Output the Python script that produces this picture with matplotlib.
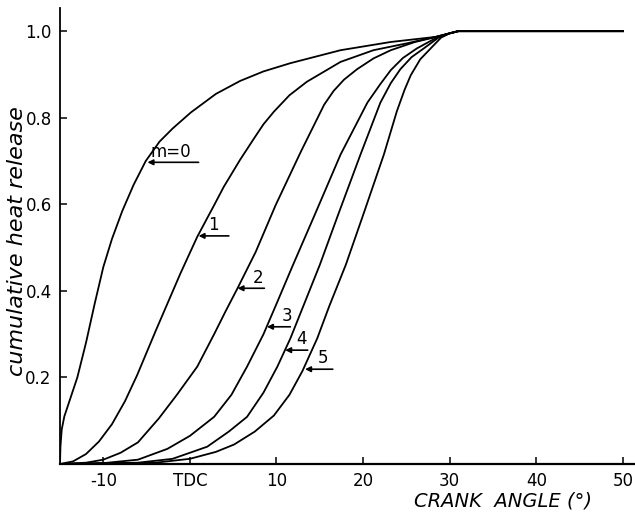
import matplotlib.pyplot as plt

# curves: crank angle (deg) vs cumulative heat release
m0_x = [-15, -14.95, -14.8, -14.5, -14.0, -13.0, -12.0, -11.0, -10.0, -9.0, -7.8, -6.5, -5.1, -3.5, -2.0,
        0.1, 3.0, 5.8, 8.5, 11.6, 17.4, 23.2, 28.5, 30, 31, 50]
m0_y = [0, 0.04, 0.08, 0.11, 0.14, 0.20, 0.28, 0.37, 0.455, 0.52, 0.585, 0.645, 0.70, 0.745, 0.775,
        0.812, 0.855, 0.885, 0.907, 0.926, 0.956, 0.975, 0.987, 0.995, 1.0, 1.0]

m1_x = [-15, -13.5, -12.0, -10.5, -9.0, -7.5, -6.1, -3.9, -1.1, 0.85, 2.8, 3.9, 5.8, 7.4, 8.5, 9.7,
        11.5, 13.5, 17.4, 21.2, 25.1, 28, 30, 31, 50]
m1_y = [0, 0.006, 0.023, 0.052, 0.092, 0.145, 0.205, 0.31, 0.44, 0.525, 0.598, 0.64, 0.703, 0.752, 0.785, 0.814,
        0.852, 0.883, 0.929, 0.956, 0.972, 0.985, 0.995, 1.0, 1.0]

m2_x = [-15, -12, -10, -8, -6, -3.6, -1.5, 0.85, 2.8, 4.1, 5.5, 7.6, 9.9, 12.8, 15.5, 16.6, 17.8,
        19.3, 21.2, 23.2, 26, 28.5, 30, 31, 50]
m2_y = [0, 0.003, 0.01, 0.026, 0.05, 0.105, 0.16, 0.225, 0.30, 0.352, 0.406, 0.49, 0.598, 0.721, 0.83, 0.862, 0.888,
        0.912, 0.937, 0.956, 0.975, 0.987, 0.995, 1.0, 1.0]

m3_x = [-15, -10, -6, -2.6, 0, 2.8, 4.8, 6.6, 8.5, 10.0, 11.8, 14.4, 17.4, 20.5, 22, 23.2, 24.6,
        26.2, 28.5, 30, 31, 50]
m3_y = [0, 0.002, 0.01, 0.035, 0.065, 0.109, 0.16, 0.225, 0.30, 0.37, 0.455, 0.575, 0.715, 0.835, 0.878, 0.91, 0.938,
        0.96, 0.985, 0.995, 1.0, 1.0]

m4_x = [-15, -6, -2, 2.0, 4.5, 6.6, 8.5, 10.1, 11.6, 13.1, 15, 17.1, 19.7, 22.0, 23.2, 24.3, 25.6,
        27.0, 28.7, 30, 31, 50]
m4_y = [0, 0.003, 0.012, 0.04, 0.075, 0.109, 0.165, 0.225, 0.29, 0.365, 0.46, 0.575, 0.715, 0.835, 0.88, 0.912, 0.94,
        0.96, 0.985, 0.995, 1.0, 1.0]

m5_x = [-15, -4, 0, 3, 5.1, 7.5, 9.7, 11.5, 13.0, 14.7, 16.1, 18, 20.0, 22.4, 23.9, 24.8, 25.5,
        26.6, 27.8, 29, 30, 31, 50]
m5_y = [0, 0.003, 0.012, 0.028, 0.045, 0.075, 0.112, 0.16, 0.215, 0.29, 0.365, 0.46, 0.575, 0.715, 0.815, 0.865, 0.898,
        0.935, 0.96, 0.985, 0.995, 1.0, 1.0]

labels = ['m=0', '1', '2', '3', '4', '5']

xticks = [-10, 0, 10, 20, 30, 40, 50]
xticklabels = ['-10', 'TDC', '10', '20', '30', '40', '50']
yticks = [0.2, 0.4, 0.6, 0.8, 1.0]

fig = plt.figure(figsize=(6.35, 5.13), dpi=100)
ax = fig.add_axes([0.0945, 0.0955, 0.9055, 0.8885])

for xs, ys in [(m0_x, m0_y), (m1_x, m1_y), (m2_x, m2_y), (m3_x, m3_y), (m4_x, m4_y), (m5_x, m5_y)]:
    ax.plot(xs, ys, color='black', linewidth=1.3, solid_joinstyle='round')

# curve labels: arrow tip on the curve, underline to the right, text above
# (tip_x, tip_y, end_x, text_x, text_y)
marks = [(-4.9, 0.697, 1.0, -2.2, 0.70),
         (1.0, 0.527, 4.5, 2.7, 0.532),
         (5.5, 0.406, 8.6, 7.9, 0.41),
         (8.9, 0.317, 11.6, 11.2, 0.322),
         (11.0, 0.263, 13.6, 12.9, 0.268),
         (13.3, 0.219, 16.5, 15.4, 0.224)]
for lab, (tx, ty, ex, lx, ly) in zip(labels, marks):
    ax.annotate('', xy=(tx, ty), xytext=(ex, ty),
                arrowprops=dict(arrowstyle='-|>', color='black', lw=1.2,
                                mutation_scale=8, shrinkA=0, shrinkB=0))
    ax.text(lx, ly, lab, ha='center', va='bottom', fontsize=12)

ax.set_xlim(-15, 51.4)
ax.set_ylim(0, 1.053)
ax.spines['top'].set_visible(False)
ax.spines['right'].set_visible(False)
ax.spines['left'].set_linewidth(1.3)
ax.spines['bottom'].set_linewidth(1.6)

ax.set_xticks(xticks)
ax.set_xticklabels(xticklabels)
ax.set_yticks(yticks)
ax.set_yticklabels(['0.2', '0.4', '0.6', '0.8', '1.0'])
ax.tick_params(direction='in', length=5, width=1.1, labelsize=12)
ax.tick_params(axis='x', pad=6)
ax.tick_params(axis='y', pad=6)

ax.set_ylabel('cumulative heat release', fontsize=16, style='italic')
ax.yaxis.set_label_coords(-0.058, 0.49)
ax.set_xlabel('CRANK  ANGLE (°)', fontsize=14, style='italic')
ax.xaxis.set_label_coords(0.77, -0.06)

fig.savefig('out.png', dpi=100)
